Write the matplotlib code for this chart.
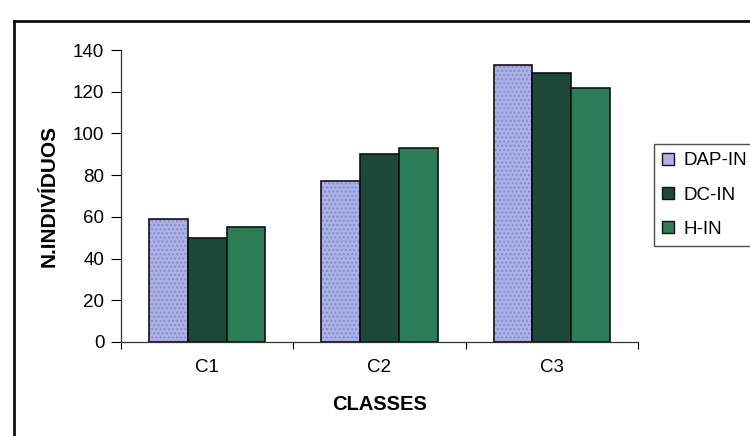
import matplotlib
matplotlib.use("Agg")
import matplotlib.pyplot as plt
from matplotlib.patches import Patch
from matplotlib.lines import Line2D
import numpy as np

plt.rcParams['font.family'] = ['Liberation Sans', 'DejaVu Sans']

categories = ["C1", "C2", "C3"]
series_names = ["DAP-IN", "DC-IN", "H-IN"]
dap_in = [59, 77, 133]
dc_in = [50, 90, 129]
h_in = [55, 93, 122]
yticks = [0, 20, 40, 60, 80, 100, 120, 140]

colors = ["#a9b3e8", "#1d4a38", "#2b7d58"]

W, H = 750, 436
fig = plt.figure(figsize=(W / 100, H / 100), dpi=100)
ax = fig.add_axes([121 / W, 1 - 342 / H, 517 / W, 292 / H])

x = np.arange(len(categories)) + 0.5
bw = 0.225
series = [dap_in, dc_in, h_in]
for i, (vals, c) in enumerate(zip(series, colors)):
    pos = x + (i - 1) * bw
    if i == 0:
        ax.bar(pos, vals, bw, color=c, hatch='....', edgecolor='#8d86c8', linewidth=0, zorder=2)
        ax.bar(pos, vals, bw, facecolor='none', edgecolor='#111111', linewidth=1.2, zorder=3)
    else:
        ax.bar(pos, vals, bw, color=c, edgecolor='#111111', linewidth=1.2, zorder=2)

ax.set_xlim(0, 3)
ax.set_ylim(0, 140)
ax.set_yticks(yticks)
ax.set_xticks([0, 1, 2, 3])
ax.set_xticklabels([])
ax.set_xticks(x, minor=True)
ax.set_xticklabels(categories, minor=True)
ax.tick_params(axis='x', which='minor', length=0, pad=12, labelsize=13.5)
ax.tick_params(axis='x', which='major', length=5, direction='out', width=0.8)
ax.tick_params(axis='y', length=7, direction='out', width=0.8, labelsize=13.5, pad=5)
for s in ['top', 'right']:
    ax.spines[s].set_visible(False)
for s in ['left', 'bottom']:
    ax.spines[s].set_linewidth(0.9)
    ax.spines[s].set_color('#333333')

ax.set_ylabel("N.INDIVÍDUOS", fontweight='bold', fontsize=15, labelpad=10)
ax.set_xlabel("CLASSES", fontweight='bold', fontsize=14.5, labelpad=14)

handles = [Patch(facecolor=c, edgecolor='#111111', linewidth=1.0) for c in colors]
leg = fig.legend(handles, series_names, loc='upper left',
                 bbox_to_anchor=(654 / W, 1 - 144 / H), fontsize=13.5,
                 handlelength=0.6, handleheight=0.6, handletextpad=0.5,
                 labelspacing=0.92, borderpad=0.45, borderaxespad=0,
                 fancybox=False, frameon=True)
leg.get_frame().set_edgecolor('#222222')
leg.get_frame().set_linewidth(1.0)

# outer chart border
fig.add_artist(Line2D([14 / W, 1.0], [1 - 21 / H, 1 - 21 / H], color='#111111', linewidth=2, transform=fig.transFigure))
fig.add_artist(Line2D([14 / W, 14 / W], [0, 1 - 21 / H], color='#111111', linewidth=2, transform=fig.transFigure))

fig.savefig("out.png", dpi=100)
